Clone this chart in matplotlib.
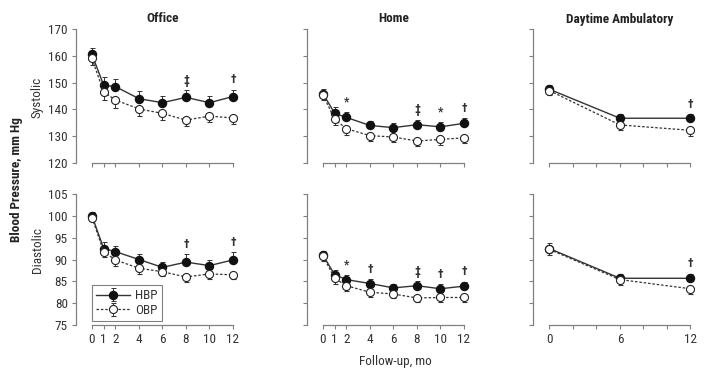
import numpy as np
import matplotlib.pyplot as plt
from matplotlib import transforms

plt.rcParams['font.family'] = ['Roboto Condensed', 'DejaVu Sans']

months = [0, 1, 2, 4, 6, 8, 10, 12]
amb_months = [0, 6, 12]

# 収縮期 (Systolic)
office_sys_hbp = [160.5, 149.0, 148.5, 144.0, 142.5, 144.5, 142.5, 144.8]
office_sys_hbp_err = [2.5, 3.0, 2.8, 3.0, 2.5, 2.7, 2.5, 2.5]
office_sys_obp = [159.0, 146.5, 143.5, 140.2, 138.5, 136.0, 137.5, 136.8]
office_sys_obp_err = [2.5, 3.0, 2.8, 2.5, 2.3, 2.3, 2.3, 2.3]
office_sys_marks = ['', '', '', '', '', '‡', '', '†']

home_sys_hbp = [145.9, 138.5, 137.0, 134.0, 133.2, 134.3, 133.5, 134.8]
home_sys_hbp_err = [1.8, 2.3, 2.2, 1.8, 1.8, 1.8, 1.8, 2.0]
home_sys_obp = [145.5, 136.3, 132.8, 130.2, 129.7, 128.2, 128.8, 129.4]
home_sys_obp_err = [2.0, 2.3, 2.2, 2.0, 2.0, 2.0, 2.0, 2.0]
home_sys_marks = ['', '', '*', '', '', '‡', '*', '†']

amb_sys_hbp = [147.5, 136.7, 136.7]
amb_sys_hbp_err = [1.5, 1.5, 1.5]
amb_sys_obp = [147.0, 134.2, 132.2]
amb_sys_obp_err = [1.8, 1.8, 2.0]
amb_sys_marks = ['', '', '†']

# 拡張期 (Diastolic)
office_dia_hbp = [100.0, 92.5, 91.8, 90.0, 88.2, 89.4, 88.6, 89.9]
office_dia_hbp_err = [0.8, 1.5, 1.3, 1.2, 1.2, 1.8, 1.2, 1.8]
office_dia_obp = [99.6, 91.8, 89.9, 88.0, 87.2, 86.0, 86.7, 86.5]
office_dia_obp_err = [0.8, 1.2, 1.3, 1.3, 1.0, 1.2, 1.2, 1.0]
office_dia_marks = ['', '', '', '', '', '†', '', '†']

home_dia_hbp = [91.0, 86.5, 85.4, 84.5, 83.5, 84.0, 83.3, 83.9]
home_dia_hbp_err = [1.0, 1.0, 1.0, 1.0, 1.0, 1.0, 1.0, 1.0]
home_dia_obp = [90.8, 85.7, 84.0, 82.5, 82.1, 81.2, 81.3, 81.3]
home_dia_obp_err = [1.2, 1.2, 1.2, 1.2, 1.0, 1.0, 1.0, 1.0]
home_dia_marks = ['', '', '*', '†', '', '‡', '†', '†']

amb_dia_hbp = [92.5, 85.7, 85.7]
amb_dia_hbp_err = [1.2, 1.0, 1.0]
amb_dia_obp = [92.3, 85.4, 83.3]
amb_dia_obp_err = [1.2, 1.2, 1.2]
amb_dia_marks = ['', '', '†']

titles = ['Office', 'Home', 'Daytime Ambulatory']

W, H = 718, 377
fig = plt.figure(figsize=(W / 100, H / 100), dpi=100)

col_left = [75.5, 306.5, 533.0]   # px
col_w = 164.5
rows = [(29, 163), (194, 325)]    # top, bottom px

line_c = '#333333'
spine_c = '#808080'
text_c = '#333333'

panels = [
    [(months, office_sys_hbp, office_sys_hbp_err, office_sys_obp, office_sys_obp_err, office_sys_marks),
     (months, home_sys_hbp, home_sys_hbp_err, home_sys_obp, home_sys_obp_err, home_sys_marks),
     (amb_months, amb_sys_hbp, amb_sys_hbp_err, amb_sys_obp, amb_sys_obp_err, amb_sys_marks)],
    [(months, office_dia_hbp, office_dia_hbp_err, office_dia_obp, office_dia_obp_err, office_dia_marks),
     (months, home_dia_hbp, home_dia_hbp_err, home_dia_obp, home_dia_obp_err, home_dia_marks),
     (amb_months, amb_dia_hbp, amb_dia_hbp_err, amb_dia_obp, amb_dia_obp_err, amb_dia_marks)],
]
ylims = [(120, 170), (75, 105)]
ysteps = [10, 5]

for r in range(2):
    top, bot = rows[r]
    for c in range(3):
        ax = fig.add_axes([col_left[c] / W, 1 - bot / H, col_w / W, (bot - top) / H])
        x, hbp, hbp_e, obp, obp_e, marks = panels[r][c]
        lo = np.zeros(len(x))
        ax.errorbar(x, hbp, yerr=[lo, hbp_e], color=line_c, lw=1.0, marker='o', ms=5.8,
                    mfc='#111111', mec='#111111', capsize=1.8, elinewidth=0.7, capthick=0.7,
                    label='HBP', zorder=3, clip_on=False)
        ax.errorbar(x, obp, yerr=[obp_e, lo], color=line_c, lw=0.9, ls=(0, (2, 1.5)), marker='o', ms=5.8,
                    mfc='white', mec='#222222', mew=0.8, capsize=1.8, elinewidth=0.7, capthick=0.7,
                    label='OBP', zorder=4, clip_on=False)
        for xi, yi, ei, m in zip(x, hbp, hbp_e, marks):
            if m:
                ax.annotate(m, (xi, yi + ei), xytext=(0, 2.5), textcoords='offset points',
                            ha='center', va='bottom', fontsize=8.5, fontweight='bold', color=text_c)
        ax.set_xlim(-1.4, 12.6)
        ax.set_ylim(*ylims[r])
        ax.spines['top'].set_visible(False)
        ax.spines['right'].set_visible(False)
        for s in ['left', 'bottom']:
            ax.spines[s].set_color(spine_c)
            ax.spines[s].set_linewidth(0.9)
        ax.spines['bottom'].set_bounds(0, 12)
        ax.set_yticks(np.arange(ylims[r][0], ylims[r][1] + 1, ysteps[r]))
        if c == 2:
            ax.set_xticks([0, 2, 4, 6, 8, 10, 12])
            ax.set_xticklabels(['0', '', '', '6', '', '', '12'])
        else:
            ax.set_xticks(months)
        ax.tick_params(colors=spine_c, labelcolor=text_c, labelsize=9.5, length=3, width=0.8, pad=2.5)
        if r == 0:
            ax.tick_params(axis='x', labelbottom=False)
            ax.text(6, 1 + 10 / (bot - top), titles[c],
                    transform=transforms.blended_transform_factory(ax.transData, ax.transAxes),
                    ha='center', va='center', fontsize=9.5, fontweight='bold', color='#222222')
        if c != 0:
            ax.tick_params(axis='y', labelleft=False)
        if r == 1 and c == 0:
            leg = ax.legend(loc='lower left', bbox_to_anchor=(0.10, 0.03), borderaxespad=0,
                            fontsize=9.5, handlelength=2.6, handletextpad=0.4, borderpad=0.3,
                            labelspacing=0.15, fancybox=False, edgecolor=spine_c, framealpha=1)
            leg.get_frame().set_linewidth(0.8)
            for t in leg.get_texts():
                t.set_color(text_c)

fig.text(17 / W, 1 - 180 / H, 'Blood Pressure, mm Hg', rotation=90, ha='center', va='center',
         fontsize=9.5, fontweight='bold', color='#222222')
fig.text(37 / W, 1 - 97 / H, 'Systolic', rotation=90, ha='center', va='center',
         fontsize=9.5, color=text_c)
fig.text(37 / W, 1 - 250 / H, 'Diastolic', rotation=90, ha='center', va='center',
         fontsize=9.5, color=text_c)
fig.text(395 / W, 1 - 362 / H, 'Follow-up, mo', ha='center', va='center',
         fontsize=9.5, color=text_c)

fig.savefig('out.png', dpi=100)
